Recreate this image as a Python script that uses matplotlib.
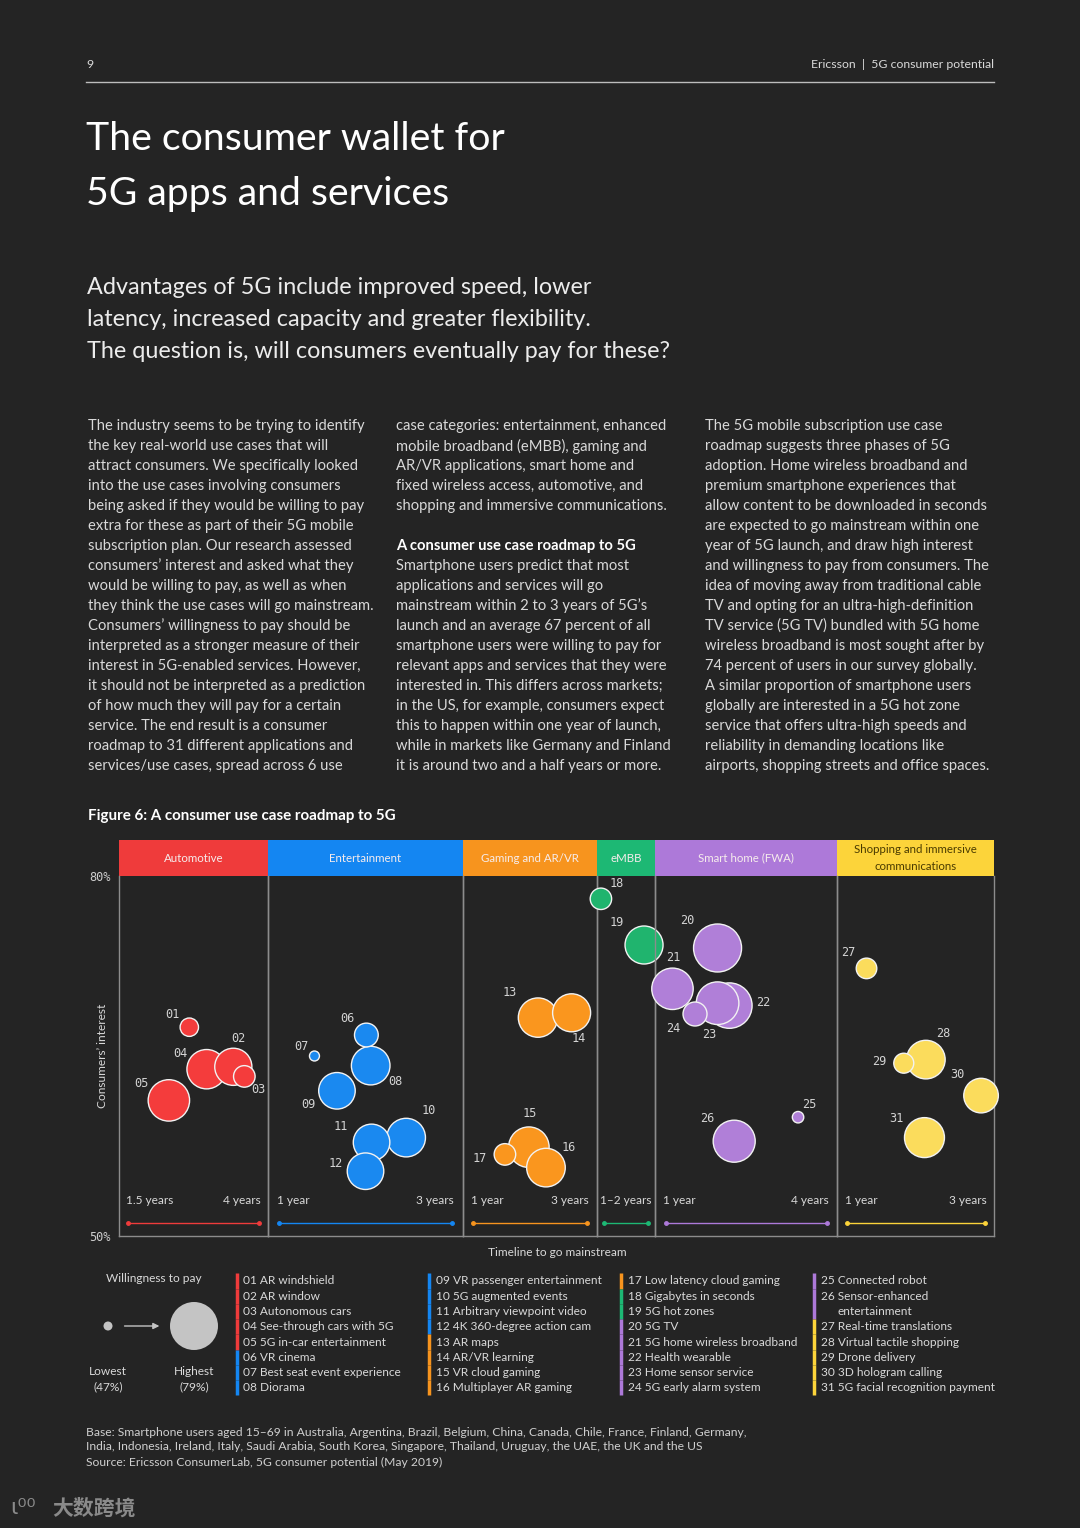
# Ericsson 5G consumer potential, page 9: consumer use case roadmap to 5G.

import numpy as np
import matplotlib
matplotlib.use("Agg")
import matplotlib.pyplot as plt
import matplotlib.transforms as mtransforms
from matplotlib.lines import Line2D

W, H = 1080, 1528
BG = "#242424"
TEXT = "#d9d9d9"
SANS = ["Lato", "DejaVu Sans"]
MONO = ["DejaVu Sans Mono"]

# ---- data -------------------------------------------------------------
CATEGORIES = ["Automotive", "Entertainment", "Gaming and AR/VR", "eMBB",
              "Smart home (FWA)", "Shopping and immersive\ncommunications"]
CAT_COLORS = ["#ef3b3b", "#1486f2", "#f7941e", "#1db874", "#ad79d9", "#fcd43a"]
BUBBLE_COLORS = ["#f43c3c", "#1a89f0", "#fa961e", "#20b46e", "#b07fd8", "#fbdc5c"]
PANEL_START = [1.5, 1, 1, 1, 1, 1]
PANEL_END = [4, 3, 3, 2, 4, 3]
START_LABELS = ["1.5 years", "1 year", "1 year", "", "1 year", "1 year"]
END_LABELS = ["4 years", "3 years", "3 years", "1\u20132 years", "4 years", "3 years"]

USE_CASE_IDS = ["%02d" % i for i in range(1, 32)]
USE_CASE_NAMES = [
    "AR windshield", "AR window", "Autonomous cars", "See-through cars with 5G",
    "5G in-car entertainment", "VR cinema", "Best seat event experience", "Diorama",
    "VR passenger entertainment", "5G augmented events", "Arbitrary viewpoint video",
    "4K 360-degree action cam", "AR maps", "AR/VR learning", "VR cloud gaming",
    "Multiplayer AR gaming", "Low latency cloud gaming", "Gigabytes in seconds",
    "5G hot zones", "5G TV", "5G home wireless broadband", "Health wearable",
    "Home sensor service", "5G early alarm system", "Connected robot",
    "Sensor-enhanced\nentertainment", "Real-time translations",
    "Virtual tactile shopping", "Drone delivery", "3D hologram calling",
    "5G facial recognition payment",
]
CATEGORY_OF = [0, 0, 0, 0, 0, 1, 1, 1, 1, 1, 1, 1, 2, 2, 2, 2, 2, 3, 3,
               4, 4, 4, 4, 4, 4, 4, 5, 5, 5, 5, 5]
YEARS = [2.67, 3.51, 3.72, 3.0, 2.28,
         2.01, 1.41, 2.06, 1.67, 2.47, 2.07, 2.0,
         2.14, 2.73, 1.98, 2.28, 1.56,
         0.93, 1.91,
         1.97, 1.13, 2.19, 1.97, 1.55, 3.47, 2.28,
         1.29, 2.15, 1.83, 2.95, 2.13]
INTEREST = [67.4, 64.1, 63.3, 63.9, 61.3,
            66.75, 65.0, 64.2, 62.1, 58.2, 57.8, 55.4,
            68.2, 68.6, 57.4, 55.7, 56.8,
            78.1, 74.25,
            74.0, 70.6, 69.2, 69.4, 68.5, 59.9, 57.9,
            72.3, 64.7, 64.4, 61.7, 58.2]
WILLINGNESS = [54.7, 70.1, 57.3, 71.9, 73.6,
               59.1, 47.8, 71.3, 69.6, 71.3, 69.6, 69.6,
               71.9, 70.8, 72.9, 71.3, 57.3,
               57.2, 70.8,
               79, 73.6, 76.9, 74.6, 59.3, 49, 74.1,
               56.5, 71.3, 56, 68, 72.4]
WTP_MIN, WTP_MAX = 47, 79

COL1 = [
    "The industry seems to be trying to identify",
    "the key real-world use cases that will",
    "attract consumers. We specifically looked",
    "into the use cases involving consumers",
    "being asked if they would be willing to pay",
    "extra for these as part of their 5G mobile",
    "subscription plan. Our research assessed",
    "consumers\u2019 interest and asked what they",
    "would be willing to pay, as well as when",
    "they think the use cases will go mainstream.",
    "Consumers\u2019 willingness to pay should be",
    "interpreted as a stronger measure of their",
    "interest in 5G-enabled services. However,",
    "it should not be interpreted as a prediction",
    "of how much they will pay for a certain",
    "service. The end result is a consumer",
    "roadmap to 31 different applications and",
    "services/use cases, spread across 6 use",
]
COL2 = [
    "case categories: entertainment, enhanced",
    "mobile broadband (eMBB), gaming and",
    "AR/VR applications, smart home and",
    "fixed wireless access, automotive, and",
    "shopping and immersive communications.",
    "",
    "A consumer use case roadmap to 5G",
    "Smartphone users predict that most",
    "applications and services will go",
    "mainstream within 2 to 3 years of 5G\u2019s",
    "launch and an average 67 percent of all",
    "smartphone users were willing to pay for",
    "relevant apps and services that they were",
    "interested in. This differs across markets;",
    "in the US, for example, consumers expect",
    "this to happen within one year of launch,",
    "while in markets like Germany and Finland",
    "it is around two and a half years or more.",
]
COL3 = [
    "The 5G mobile subscription use case",
    "roadmap suggests three phases of 5G",
    "adoption. Home wireless broadband and",
    "premium smartphone experiences that",
    "allow content to be downloaded in seconds",
    "are expected to go mainstream within one",
    "year of 5G launch, and draw high interest",
    "and willingness to pay from consumers. The",
    "idea of moving away from traditional cable",
    "TV and opting for an ultra-high-definition",
    "TV service (5G TV) bundled with 5G home",
    "wireless broadband is most sought after by",
    "74 percent of users in our survey globally.",
    "A similar proportion of smartphone users",
    "globally are interested in a 5G hot zone",
    "service that offers ultra-high speeds and",
    "reliability in demanding locations like",
    "airports, shopping streets and office spaces.",
]
FOOTNOTE = [
    "Base: Smartphone users aged 15\u201369 in Australia, Argentina, Brazil, Belgium, China, Canada, Chile, France, Finland, Germany,",
    "India, Indonesia, Ireland, Italy, Saudi Arabia, South Korea, Singapore, Thailand, Uruguay, the UAE, the UK and the US",
    "Source: Ericsson ConsumerLab, 5G consumer potential (May 2019)",
]

# ---- layout (pixels) --------------------------------------------------
PANEL_EDGES = [119, 268, 463, 597, 655, 837, 994]
PAD_PX = [9, 11, 10, 7, 10.5, 9.5]
PLOT_TOP, PLOT_BOTTOM = 876, 1236
LABEL_OFFSETS = [(-17, -13), (5, -28), (14, 13), (-26, -16), (-27, -17),
                 (-19, -17), (-13, -10), (25, 16), (-29, 14), (22, -27),
                 (-31, -16), (-30, -8), (-28, -25), (7, 26), (1, -34),
                 (23, -20), (-25, 4), (16, -15), (-27, -22), (-30, -28),
                 (1, -31), (34, -3), (-8, 31), (-22, 14), (11, -13),
                 (-27, -23), (-18, -16), (17, -26), (-25, -2), (-24, -21),
                 (-28, -19)]


def fx(x):
    return x / W


def fy(y):
    return 1 - y / H


def radius_px(w):
    return 4.5 + (np.asarray(w) - WTP_MIN) / (WTP_MAX - WTP_MIN) * 19.5


def marker_area(w):
    return (2 * radius_px(w) * 0.72) ** 2


def main():
    fig = plt.figure(figsize=(W / 100, H / 100), dpi=100, facecolor=BG)

    # page header
    fig.text(fx(86), fy(65), "9", color=TEXT, fontsize=8.8, family=SANS, va="center")
    fig.text(fx(994), fy(65), "Ericsson  |  5G consumer potential", color=TEXT,
             fontsize=8.8, family=SANS, va="center", ha="right")
    fig.add_artist(Line2D([fx(86), fx(994)], [fy(82), fy(82)], color="#bdbdbd", lw=1))

    fig.text(fx(86), fy(150), "The consumer wallet for", color="white",
             fontsize=28.3, family=SANS, va="baseline")
    fig.text(fx(86), fy(205), "5G apps and services", color="white",
             fontsize=28.3, family=SANS, va="baseline")
    subtitle = ["Advantages of 5G include improved speed, lower",
                "latency, increased capacity and greater flexibility.",
                "The question is, will consumers eventually pay for these?"]
    for i, line in enumerate(subtitle):
        fig.text(fx(87), fy(294 + 32 * i), line, color="#ececec", fontsize=16.8,
                 family=SANS, va="baseline")

    for x0, col in [(88, COL1), (396, COL2), (705, COL3)]:
        for i, line in enumerate(col):
            bold = line.startswith("A consumer use case")
            fig.text(fx(x0), fy(426 + 20 * i), line, color="white" if bold else TEXT,
                     fontsize=10.6, family=SANS, weight="bold" if bold else "normal",
                     va="center")

    fig.text(fx(88), fy(816), "Figure 6: A consumer use case roadmap to 5G", color="white",
             fontsize=10.9, family=SANS, weight="bold", va="center")

    # chart panels
    years = np.array(YEARS)
    interest = np.array(INTEREST)
    wtp = np.array(WILLINGNESS)
    cats = np.array(CATEGORY_OF)
    ax_h = (PLOT_BOTTOM - PLOT_TOP) / H
    for k in range(len(CATEGORIES)):
        left, right = PANEL_EDGES[k], PANEL_EDGES[k + 1]
        ax = fig.add_axes([fx(left), fy(PLOT_BOTTOM), (right - left) / W, ax_h])
        ax.set_facecolor("none")
        span = PANEL_END[k] - PANEL_START[k]
        upp = span / (right - left - 2 * PAD_PX[k])
        ax.set_xlim(PANEL_START[k] - PAD_PX[k] * upp, PANEL_END[k] + PAD_PX[k] * upp)
        ax.set_ylim(50, 80)
        ax.set_xticks([])
        ax.set_yticks([])
        for side in ["left", "right", "bottom"]:
            ax.spines[side].set_color("#8c8c8c")
            ax.spines[side].set_linewidth(1)
        ax.spines["top"].set_visible(False)

        # header band
        ax.add_patch(plt.Rectangle((0, 1), 1, 36 / 360, transform=ax.transAxes,
                                   facecolor=CAT_COLORS[k], edgecolor="none",
                                   clip_on=False))
        ax.text(0.5, 1 + 18 / 360, CATEGORIES[k], transform=ax.transAxes,
                ha="center", va="center", fontsize=8.3, family=SANS,
                color="#4a3b00" if k == 5 else "#f6ecec", linespacing=1.6)

        # timeline
        trans = mtransforms.blended_transform_factory(ax.transData, ax.transAxes)
        ax.plot([PANEL_START[k], PANEL_END[k]], [13 / 360, 13 / 360], transform=trans,
                color=CAT_COLORS[k], lw=1, marker="o", markersize=2.5, clip_on=False)
        if START_LABELS[k]:
            ax.text(PANEL_START[k] - PAD_PX[k] * upp * 0.2, 36 / 360, START_LABELS[k],
                    transform=trans, ha="left", va="center", fontsize=8.6,
                    family=SANS, color=TEXT)
            ax.text(PANEL_END[k] + PAD_PX[k] * upp * 0.2, 36 / 360, END_LABELS[k],
                    transform=trans, ha="right", va="center", fontsize=8.6,
                    family=SANS, color=TEXT)
        else:
            ax.text(0.5, 36 / 360, END_LABELS[k], transform=ax.transAxes,
                    ha="center", va="center", fontsize=8.6, family=SANS, color=TEXT)

        # bubbles (big ones first, so smaller overlap on top)
        idx = np.where(cats == k)[0]
        idx = idx[np.argsort(-wtp[idx], kind="stable")]
        ax.scatter(years[idx], interest[idx], s=marker_area(wtp[idx]),
                   c=BUBBLE_COLORS[k], edgecolors="#f2f2f2", linewidths=1.0,
                   zorder=3, clip_on=False)
        for i in np.where(cats == k)[0]:
            dx, dy = LABEL_OFFSETS[i]
            ax.annotate(USE_CASE_IDS[i], (years[i], interest[i]),
                        xytext=(dx, -dy), textcoords="offset pixels",
                        ha="center", va="center", fontsize=8.6, family=MONO,
                        color="#d4d4d4", zorder=4, annotation_clip=False)

        if k == 0:
            ax.set_yticks([50, 80])
            ax.set_yticklabels(["50%", "80%"])
            ax.tick_params(axis="y", length=0, pad=6, labelcolor="#cfcfcf",
                           labelsize=8.6)
            for t in ax.get_yticklabels():
                t.set_family(MONO)

    fig.text(fx(103), fy(1056), "Consumers\u2019 interest", rotation=90, color=TEXT,
             fontsize=8.6, family=SANS, ha="center", va="center")
    fig.text(fx(557), fy(1252), "Timeline to go mainstream", color=TEXT,
             fontsize=8.6, family=SANS, ha="center", va="center")

    # willingness-to-pay key
    fig.text(fx(154), fy(1279), "Willingness to pay", color=TEXT, fontsize=8.6,
             family=SANS, ha="center", va="center")
    kax = fig.add_axes([fx(88), fy(1352), 127 / W, 52 / H])
    kax.set_xlim(-20 / 86, 1 + 21 / 86)
    kax.set_ylim(-1, 1)
    kax.axis("off")
    kax.scatter([0, 1], [0, 0], s=marker_area([WTP_MIN, WTP_MAX]), c="#c4c4c4",
                edgecolors="none", clip_on=False)
    kax.annotate("", xy=(0.63, 0), xytext=(0.16, 0),
                 arrowprops=dict(arrowstyle="-|>", color="#c4c4c4", lw=1,
                                 mutation_scale=9))
    for x0, lab in [(108, "Lowest\n(47%)"), (194, "Highest\n(79%)")]:
        fig.text(fx(x0), fy(1379), lab, color=TEXT, fontsize=8.6, family=SANS,
                 ha="center", va="center", linespacing=1.45)

    # use case list
    col_x = [243, 436, 628, 821]
    bar_x = [237, 429, 621, 814]
    groups = [range(0, 8), range(8, 16), range(16, 24), range(24, 31)]
    row_h = 15.25
    for c, grp in enumerate(groups):
        row = 0
        for i in grp:
            lines = USE_CASE_NAMES[i].split("\n")
            y_top = 1281 + row * row_h - row_h / 2
            for j, part in enumerate(lines):
                y = 1281 + row * row_h
                txt = "%s %s" % (USE_CASE_IDS[i], part) if j == 0 else part
                fig.text(fx(col_x[c] + (17 if j else 0)), fy(y), txt, color=TEXT,
                         fontsize=8.6, family=SANS, va="center")
                row += 1
            y_bot = 1281 + (row - 1) * row_h + row_h / 2
            fig.add_artist(Line2D([fx(bar_x[c])] * 2, [fy(y_top), fy(y_bot)],
                                  color=CAT_COLORS[CATEGORY_OF[i]], lw=2.5,
                                  solid_capstyle="butt"))

    for i, line in enumerate(FOOTNOTE):
        fig.text(fx(86), fy(1432 + 15 * i), line, color="#cfcfcf", fontsize=8.7,
                 family=SANS, va="center")

    # watermark
    fig.text(fx(10), fy(1508), "\u0269\u2070\u2070", color="#8a8a8a", fontsize=16,
             family=["DejaVu Sans"], va="center")
    fig.text(fx(52), fy(1508), "大数跨境", color="#8a8a8a", fontsize=15,
             family=["Noto Sans CJK SC", "DejaVu Sans"], weight="bold", va="center")

    fig.savefig("out.png", dpi=100, facecolor=BG)


if __name__ == "__main__":
    main()
